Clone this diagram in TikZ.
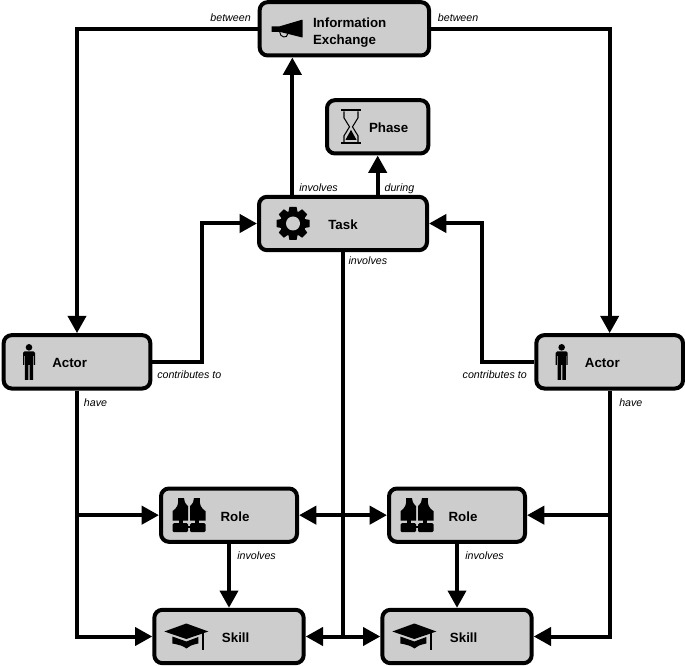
\documentclass[tikz,border=0pt]{standalone}
\usepackage{fontspec}
\setmainfont{Liberation Sans}
\usetikzlibrary{positioning,arrows.meta}

\definecolor{boxgrey}{HTML}{CDCDCD}

\tikzset{
  mynode/.style={draw,line width=3pt,rounded corners=6pt,fill=boxgrey,minimum height=40pt,
    align=left,font=\bfseries\fontsize{10}{12.8}\selectfont,inner sep=0pt,text depth=0pt,text height=9.2pt},
  myedge/.style={line width=3pt,-{Triangle[length=13pt,width=13.5pt]}},
  mydouble/.style={line width=3pt,{Triangle[length=13pt,width=13.5pt]}-{Triangle[length=13pt,width=13.5pt]}},
  myline/.style={line width=3pt},
  mylabel/.style={font=\itshape\fontsize{8}{10}\selectfont,inner sep=0pt},
  pics/person/.style={code={
    \fill (0,-14.5) circle (3.3);
    \fill (-6,-9) -- (-4.5,-10.5) -- (4.5,-10.5) -- (6,-9) -- (6,3) -- (4.8,3) -- (4.8,-6) -- (4.1,-6) -- (4.1,18)
      -- (0.6,18) -- (0.6,3) -- (-0.6,3) -- (-0.6,18) -- (-4.1,18) -- (-4.1,-6) -- (-4.8,-6) -- (-4.8,3) -- (-6,3) -- cycle;
  }},
  pics/gear/.style={code={
    \fill (0,0) circle (12.8);
    \foreach \a in {0,45,...,315}
      \fill[rotate=\a] (-3.6,-16.5) -- (3.6,-16.5) -- (4.6,-11) -- (-4.6,-11) -- cycle;
    \fill[boxgrey] (0,0) circle (7);
  }},
  pics/megaphone/.style={code={
    \fill (-16,-2.5) -- (-8,-2.5) -- (14,-9) -- (15,-9) -- (15,8.5) -- (14,8.5) -- (-8,3) -- (-16,3) -- cycle;
    \draw[line width=0.7pt] (-8,3) .. controls (-8,9) and (0,10) .. (0,5);
  }},
  pics/hourglass/.style={code={
    \fill (-10,-17.5) rectangle (10,-15.5);
    \fill (-10,15.5) rectangle (10,17.5);
    \draw[line width=0.8pt] (-7,-15.5) -- (-7,-9) -- (-1.5,0) -- (-7,9) -- (-7,15.5);
    \draw[line width=0.8pt] (7,-15.5) -- (7,-9) -- (1.5,0) -- (7,9) -- (7,15.5);
    \fill (0,3) -- (5.5,13) -- (-5.5,13) -- cycle;
  }},
  pics/vest/.style={code={
    \foreach \s in {1,-1} {
      \fill[xscale=\s] (1,-9) .. controls (4,-12) and (5,-14) .. (5,-17) -- (11,-17)
        .. controls (10,-11) and (12,-7) .. (16.5,-4) -- (16.5,5.5) -- (1,5.5) -- cycle;
      \fill[xscale=\s,rounded corners=1pt] (1,8) rectangle (16.5,17);
      \fill[xscale=\s] (6,5) rectangle (10,9);
    }
    \fill (-2,10.5) rectangle (2,13);
  }},
  pics/gradcap/.style={code={
    \fill (0,-13) -- (22,-5) -- (0,2.5) -- (-22,-5) -- cycle;
    \fill (-14,0) -- (0,5) -- (12,0.5) -- (12,7) .. controls (5,8.5) and (3,9.5) .. (0,12) .. controls (-3,9.5) and (-6,8.5) .. (-14,7) -- cycle;
    \draw[line width=1.5pt] (17,-5) -- (17,13.5);
  }}
}

\begin{document}
\begin{tikzpicture}[x=0.75pt,y=-0.75pt]
\useasboundingbox (0,0) rectangle (685,666);

\node[mynode,minimum width=126pt] at (343,223.5) (task) {Task};
\node[mynode,minimum width=127pt,text height=24.2pt,above=103pt of task,xshift=1pt] (ie) {\hspace*{8pt}Information\\\hspace*{8pt}Exchange};
\node[mynode,minimum width=76pt,above=29.5pt of task,xshift=26pt] (phase) {\hspace*{16.5pt}Phase};

\node[mynode,minimum width=110pt,below left=60.75pt and 78.5pt of task] (actorl) {Actor\hspace*{11pt}};
\node[mynode,minimum width=110pt,below right=60.75pt and 79pt of task] (actorr) {Actor\hspace*{11pt}};

\node[mynode,minimum width=102pt,below right=72pt and 5pt of actorl] (rolel) {\hspace*{9pt}Role};
\node[mynode,minimum width=102pt,right=66pt of rolel] (roler) {\hspace*{9pt}Role};
\node[mynode,minimum width=112pt,below=48pt of rolel] (skilll) {\hspace*{10pt}Skill};
\node[mynode,minimum width=112pt,below=48pt of roler] (skillr) {\hspace*{10pt}Skill};

\pic at ([xshift=-42.5pt]ie.center) {megaphone};
\pic at ([xshift=-20pt]phase.center) {hourglass};
\pic at ([xshift=-37.5pt]task.center) {gear};
\pic at ([xshift=-36pt]actorl.center) {person};
\pic at ([xshift=-36pt]actorr.center) {person};
\pic at ([xshift=-30pt]rolel.center) {vest};
\pic at ([xshift=-30pt]roler.center) {vest};
\pic at ([xshift=-32pt]skilll.center) {gradcap};
\pic at ([xshift=-32pt]skillr.center) {gradcap};

\coordinate (taskie) at ([xshift=-38pt]task.north);
\coordinate (bendl) at ([xshift=37.5pt]actorl.east);
\coordinate (bendr) at ([xshift=-39.5pt]actorr.west);

\draw[myedge] (ie.west) -| (actorl.north);
\draw[myedge] (ie.east) -| (actorr.north);
\draw[myedge] (taskie) -- (taskie |- ie.south);
\draw[myedge] (phase.south |- task.north) -- (phase.south);
\draw[myedge] (actorl.east) -| (bendl) |- (task.west);
\draw[myedge] (actorr.west) -| (bendr) |- (task.east);
\draw[myedge] (actorl.south) |- (skilll.west);
\draw[myedge] (actorr.south) |- (skillr.east);
\draw[myedge] (actorl.south |- rolel) -- (rolel.west);
\draw[myedge] (actorr.south |- roler) -- (roler.east);
\draw[myedge] (rolel.south) -- (skilll.north);
\draw[myedge] (roler.south) -- (skillr.north);
\draw[mydouble] (rolel.east) -- (roler.west);
\draw[mydouble] (skilll.east) -- (skillr.west);
\draw[myline] (task.south) -- (task.south |- skilll);

\node[mylabel,above left=5pt and 5pt of ie.west] (betweenl) {between};
\node[mylabel,above right=5pt and 5pt of ie.east] (betweenr) {between};
\node[mylabel,above right=2pt and 5pt of taskie] (involvesie) {involves};
\node[mylabel,above right=1pt and 5pt of phase.south |- task.north] (during) {during};
\node[mylabel,below right=3.5pt and 4pt of task.south] (involvestask) {involves};
\node[mylabel,below right=6.5pt and 3.5pt of actorl.east] (contribl) {contributes to};
\node[mylabel,below left=6.5pt and 5.5pt of actorr.west] (contribr) {contributes to};
\node[mylabel,below right=6pt and 5pt of actorl.south] (havel) {have};
\node[mylabel,below right=6pt and 7pt of actorr.south] (haver) {have};
\node[mylabel,below right=6pt and 6pt of rolel.south] (involvesl) {involves};
\node[mylabel,below right=6pt and 6pt of roler.south] (involvesr) {involves};

\end{tikzpicture}
\end{document}
